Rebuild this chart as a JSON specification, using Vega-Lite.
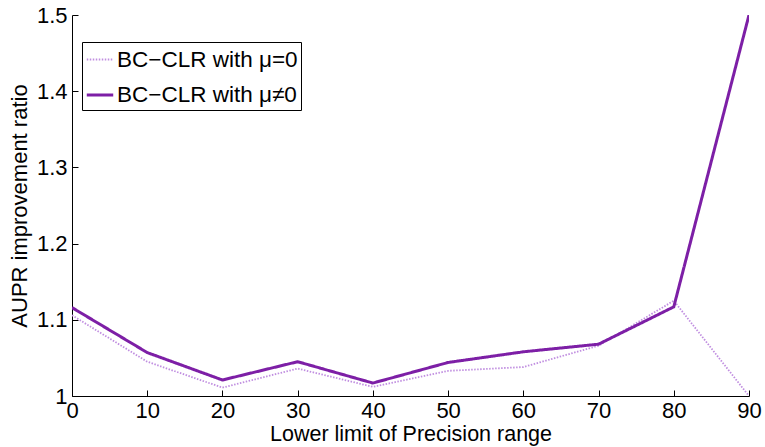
{
  "$schema": "https://vega.github.io/schema/vega-lite/v6.json",
  "width": 677,
  "height": 381,
  "autosize": {"type": "none"},
  "padding": {"left": 72, "top": 15, "right": 16, "bottom": 51},
  "background": "white",
  "config": {
    "view": {"stroke": null},
    "font": "Liberation Sans",
    "axis": {
      "grid": false,
      "domainColor": "black",
      "domainWidth": 1,
      "tickColor": "black",
      "tickWidth": 1,
      "tickSize": -6,
      "labelFlush": false,
      "labelFont": "Liberation Sans",
      "labelFontSize": 22,
      "labelColor": "black",
      "labelPadding": 10,
      "titleFont": "Liberation Sans",
      "titleFontSize": 22,
      "titleFontWeight": "normal",
      "titleColor": "black"
    }
  },
  "data": {
    "values": [
      {"x": 0, "v": 1.106, "s": "BC−CLR with μ=0"},
      {"x": 10, "v": 1.045, "s": "BC−CLR with μ=0"},
      {"x": 20, "v": 1.011, "s": "BC−CLR with μ=0"},
      {"x": 30, "v": 1.036, "s": "BC−CLR with μ=0"},
      {"x": 40, "v": 1.012, "s": "BC−CLR with μ=0"},
      {"x": 50, "v": 1.033, "s": "BC−CLR with μ=0"},
      {"x": 60, "v": 1.038, "s": "BC−CLR with μ=0"},
      {"x": 70, "v": 1.066, "s": "BC−CLR with μ=0"},
      {"x": 80, "v": 1.125, "s": "BC−CLR with μ=0"},
      {"x": 90, "v": 1.0, "s": "BC−CLR with μ=0"},
      {"x": 0, "v": 1.116, "s": "BC−CLR with μ≠0"},
      {"x": 10, "v": 1.057, "s": "BC−CLR with μ≠0"},
      {"x": 20, "v": 1.021, "s": "BC−CLR with μ≠0"},
      {"x": 30, "v": 1.045, "s": "BC−CLR with μ≠0"},
      {"x": 40, "v": 1.017, "s": "BC−CLR with μ≠0"},
      {"x": 50, "v": 1.044, "s": "BC−CLR with μ≠0"},
      {"x": 60, "v": 1.058, "s": "BC−CLR with μ≠0"},
      {"x": 70, "v": 1.068, "s": "BC−CLR with μ≠0"},
      {"x": 80, "v": 1.117, "s": "BC−CLR with μ≠0"},
      {"x": 90, "v": 1.5, "s": "BC−CLR with μ≠0"}
    ]
  },
  "mark": {"type": "line", "clip": true},
  "encoding": {
    "x": {
      "field": "x",
      "type": "quantitative",
      "scale": {"domain": [0, 90], "nice": false, "zero": false},
      "axis": {"values": [0, 10, 20, 30, 40, 50, 60, 70, 80, 90], "title": "Lower limit of Precision range", "titlePadding": 2, "titleFontSize": 21.5}
    },
    "y": {
      "field": "v",
      "type": "quantitative",
      "scale": {"domain": [1, 1.5], "nice": false, "zero": false},
      "axis": {"values": [1, 1.1, 1.2, 1.3, 1.4, 1.5], "format": ".1~f", "title": "AUPR improvement ratio", "titlePadding": 5, "labelPadding": 11}
    },
    "color": {
      "field": "s",
      "type": "nominal",
      "scale": {"domain": ["BC−CLR with μ=0", "BC−CLR with μ≠0"], "range": ["#c08ee0", "#7d1fa6"]},
      "legend": {
        "title": null,
        "orient": "none",
        "legendX": 10,
        "legendY": 27,
        "strokeColor": "black",
        "fillColor": "white",
        "padding": 3,
        "rowPadding": 9,
        "labelFont": "Liberation Sans",
        "labelFontSize": 22.5,
        "labelColor": "black",
        "labelOffset": 2,
        "symbolType": "stroke",
        "symbolSize": 700,
        "labelLimit": 400
      }
    },
    "strokeDash": {
      "field": "s",
      "type": "nominal",
      "scale": {"domain": ["BC−CLR with μ=0", "BC−CLR with μ≠0"], "range": [[1.5, 1.5], [1, 0]]},
      "legend": null
    },
    "strokeWidth": {
      "field": "s",
      "type": "nominal",
      "scale": {"domain": ["BC−CLR with μ=0", "BC−CLR with μ≠0"], "range": [1.8, 3]},
      "legend": null
    }
  }
}
